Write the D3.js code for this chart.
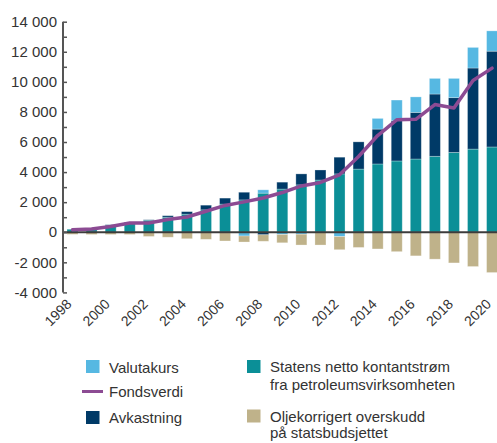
<!DOCTYPE html>
<html><head><meta charset="utf-8">
<script src="https://cdn.jsdelivr.net/npm/d3@7"></script>
<style>
html,body{margin:0;padding:0;background:#fff;}
svg{display:block;font-family:"Liberation Sans",Arial,sans-serif;}
</style></head>
<body><svg id="c" width="497" height="443"></svg>
<script>
const years = [1998,1999,2000,2001,2002,2003,2004,2005,2006,2007,2008,2009,2010,2011,2012,2013,2014,2015,2016,2017,2018,2019,2020];
// Statens netto kontantstrøm fra petroleumsvirksomheten (kumulativ)
const inflow = [200,230,480,650,800,1000,1200,1490,1870,2150,2600,2870,3150,3470,3880,4200,4540,4740,4870,5050,5310,5530,5670];
// Avkastning
const returns = [0,0,20,30,30,100,170,310,400,510,-170,460,730,670,1110,1810,2320,2680,3100,4140,3640,5390,6370];
// Valutakurs
const currency = [0,0,0,0,0,0,0,0,0,-250,220,-150,-130,0,-290,0,710,1370,1030,1040,1280,1370,1350];
// Oljekorrigert overskudd på statsbudsjettet
const deficit = [-140,-150,-150,-150,-280,-330,-430,-470,-580,-400,-430,-550,-720,-850,-870,-1010,-1110,-1290,-1570,-1790,-2040,-2280,-2680];
// Fondsverdi
const fundValue = [172,222,386,614,609,845,1016,1399,1784,2019,2275,2640,3077,3312,3816,5038,6431,7475,7510,8488,8256,10088,10914];
const yTicks = [-4000,-2000,0,2000,4000,6000,8000,10000,12000,14000];
const xTickYears = [1998,2000,2002,2004,2006,2008,2010,2012,2014,2016,2018,2020];

const colors = {inflow:"#0b8f97", returns:"#003a67", currency:"#56b8e2", deficit:"#bfb28a", line:"#8c4b93"};

const svg = d3.select("#c");
const x = d3.scaleBand().domain(years).range([63, 501.6]).paddingInner(0.423).paddingOuter(0.21);
const y = d3.scaleLinear().domain([-4000,14000]).range([292.4, 21.7]);

const rows = years.map((yr,i)=>({year:yr, inflow:inflow[i], returns:returns[i], currency:currency[i], deficit:deficit[i]}));
const keys = ["inflow","returns","currency","deficit"];
const stack = d3.stack().keys(keys).offset(d3.stackOffsetDiverging)(rows);

svg.append("g").selectAll("g").data(stack).join("g")
  .attr("fill", d=>colors[d.key])
  .selectAll("rect").data(d=>d).join("rect")
  .attr("x", d=>x(d.data.year))
  .attr("width", x.bandwidth())
  .attr("y", d=>y(Math.max(d[0],d[1])))
  .attr("height", d=>Math.abs(y(d[0])-y(d[1])))
  .attr("stroke","#ffffff").attr("stroke-opacity",0.35).attr("stroke-width",0.8);

// zero line
svg.append("line").attr("x1",63).attr("x2",497).attr("y1",y(0)).attr("y2",y(0))
  .attr("stroke","#3c3c3c").attr("stroke-width",1.8);

// fund value line
const line = d3.line().x((d,i)=>x(years[i])+x.bandwidth()/2).y(d=>y(d));
svg.append("path").datum(fundValue).attr("d",line).attr("fill","none")
  .attr("stroke",colors.line).attr("stroke-width",3.5).attr("stroke-linejoin","round").attr("stroke-linecap","round");

// y axis
const yAxis = d3.axisRight(y).tickValues(d3.range(-4000,14001,1000)).tickSize(4).tickFormat("");
const ga = svg.append("g").attr("transform","translate(63,0)").call(yAxis);
ga.select(".domain").attr("stroke","#555").attr("stroke-width",2).attr("d",`M0,${y(-4000)}V${y(14000)}`);
ga.selectAll(".tick line").attr("stroke","#555").attr("stroke-width",1.5);

const fmt = v => (v<0?"-":"") + d3.format(",")(Math.abs(v)).replace(/,/g," ");
svg.append("g").selectAll("text").data(yTicks).join("text")
  .attr("x",57).attr("y",d=>y(d)).attr("dy","0.35em").attr("text-anchor","end")
  .attr("font-size",15).attr("fill","#333").text(fmt);

// x labels
svg.append("g").selectAll("text").data(xTickYears).join("text")
  .attr("transform",d=>`translate(${x(d)+x.bandwidth()/2},${305}) rotate(-45)`)
  .attr("text-anchor","end")
  .attr("font-size",14).attr("fill","#333").text(d=>d);

// legend
const lg = svg.append("g").attr("font-size",15).attr("fill","#333");
const sq = (xx,yy,c)=>lg.append("rect").attr("x",xx).attr("y",yy).attr("width",13.5).attr("height",13).attr("fill",c);
const tx = (xx,yy,t)=>lg.append("text").attr("x",xx).attr("y",yy).attr("fill","#333").text(t);
sq(86,360,colors.currency); tx(109,372.5,"Valutakurs");
lg.append("line").attr("x1",82).attr("x2",103).attr("y1",391.5).attr("y2",391.5).attr("stroke",colors.line).attr("stroke-width",3);
tx(109,397,"Fondsverdi");
sq(86,411,colors.returns); tx(109,423,"Avkastning");
sq(247,360,colors.inflow); tx(270,372,"Statens netto kontantstrøm"); tx(270,389.5,"fra petroleumsvirksomheten");
sq(247,409.5,colors.deficit); tx(270,421.5,"Oljekorrigert overskudd"); tx(270,437.5,"på statsbudsjettet");
</script></body></html>
